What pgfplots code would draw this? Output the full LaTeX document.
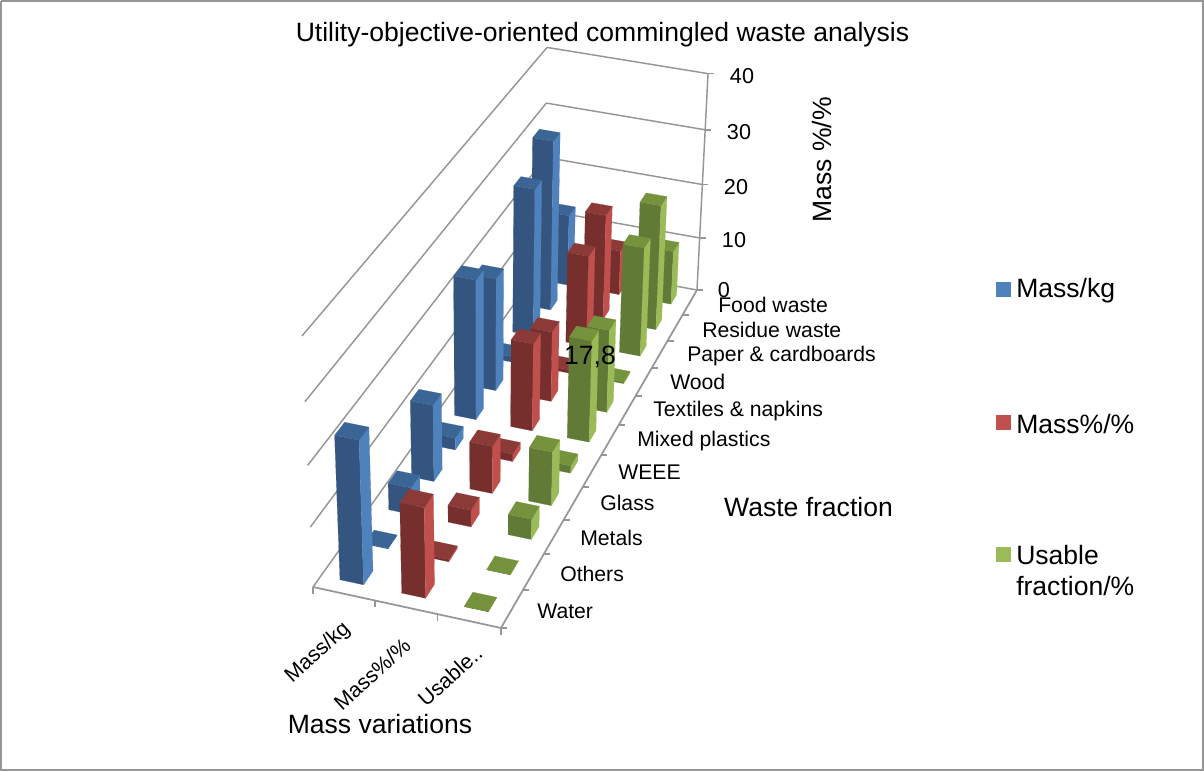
\documentclass[border=0pt]{standalone}
\usepackage{pgfplots}
\pgfplotsset{compat=1.18}
\usepackage{pgfplotstable}
\usepackage{fontspec}
\setmainfont{Liberation Sans}

\definecolor{bluefront}{HTML}{335580}
\definecolor{blueside}{HTML}{4F81BD}
\definecolor{bluetop}{HTML}{3B6595}
\definecolor{redfront}{HTML}{772F2D}
\definecolor{redside}{HTML}{C0504D}
\definecolor{redtop}{HTML}{8C3A38}
\definecolor{greenfront}{HTML}{617A36}
\definecolor{greenside}{HTML}{9BBB59}
\definecolor{greentop}{HTML}{75923C}
\definecolor{gridgray}{HTML}{969696}

% rows run from the back of the floor (Food waste) to the front (Water)
\pgfplotstableread{
row fraction kg pct usable
10 Food     13.2 8.3  10.0
9  Residue  31.0 19.4 22.9
8  Paper    26.7 16.5 19.8
7  Wood     1.0  0.6  0.3
6  Textiles 20.0 12.5 14.7
5  Plastics 24.5 15.4 17.8
4  WEEE     2.1  1.3  1.3
3  Glass    13.2 8.2  9.3
2  Metals   4.6  2.9  3.5
1  Others   0.1  0.4  0.05
0  Water    23.7 15.0 0.05
}\wastedata

% floor (u,v in 0..1) plus height in value units, to picture pixels
\newcommand{\proj}[4]{%
  \pgfmathsetmacro\pw{-0.01764*#1+0.25136*#2+1-0.0606*#3/40}%
  \pgfmathsetmacro\px{(179.16*#1+367.74*#2+313-29.3*#3/40)/\pw}%
  \pgfmathsetmacro\py{(29.92*#1-259.14*#2+587-271.4*#3/40)/\pw}%
  \expandafter\edef\csname #4\endcsname{(\px,\py)}%
}
\newcommand{\edge}[7]{% two 3d points, then style
  \proj{#1}{#2}{#3}{pa}\proj{#4}{#5}{#6}{pb}%
  \edef\tmp{\noexpand\addplot[#7] coordinates {\pa\pb};}\tmp
}
\newcommand{\tickmark}[5]{% 3d point, then pixel offset
  \proj{#1}{#2}{#3}{pa}%
  \pgfmathsetmacro\qx{\px+#4}\pgfmathsetmacro\qy{\py+#5}%
  \edef\tmp{\noexpand\addplot[gridgray,line width=1.3pt] coordinates {\pa(\qx,\qy)};}\tmp
}
\newcommand{\face}[2]{%
  \edef\tmp{\noexpand\addplot[fill=#1,draw=#1,line width=0.1pt,forget plot] coordinates {#2} -- cycle;}\tmp
}
% one bar: column, row, value, colour stem
\newcommand{\wastebar}[4]{%
  \pgfmathsetmacro\ua{(#1+0.5)/3-0.064}%
  \pgfmathsetmacro\ub{(#1+0.5)/3+0.064}%
  \pgfmathsetmacro\va{(#2+0.5)/11-0.0173}%
  \pgfmathsetmacro\vb{(#2+0.5)/11+0.0173}%
  \proj{\ua}{\va}{0}{pa}\proj{\ub}{\va}{0}{pb}\proj{\ub}{\vb}{0}{pc}%
  \proj{\ua}{\va}{#3}{pd}\proj{\ub}{\va}{#3}{pe}\proj{\ub}{\vb}{#3}{pf}\proj{\ua}{\vb}{#3}{pg}%
  \face{#4front}{\pa\pb\pe\pd}%
  \face{#4side}{\pb\pc\pf\pe}%
  \face{#4top}{\pd\pe\pf\pg}%
}
\newcommand{\wastecolumn}[3]{% column index, table column, colour
  \pgfplotsforeachungrouped \r in {10,9,8,7,6,5,4,3,2,1,0}{%
    \pgfmathtruncatemacro\rr{10-\r}%
    \pgfplotstablegetelem{\rr}{#2}\of\wastedata
    \edef\val{\pgfplotsretval}%
    \wastebar{#1}{\r}{\val}{#3}%
  }%
}

\begin{document}
\begin{tikzpicture}[
  ax/.style={font=\fontsize{16.2}{19}\selectfont,inner sep=0pt},
  cat/.style={font=\fontsize{15.9}{18}\selectfont,inner sep=0pt,anchor=west},
  big/.style={font=\fontsize{19.9}{23}\selectfont,inner sep=0pt},
]
\begin{axis}[
  scale only axis,
  x=0.75pt, y=0.75pt,
  xmin=0, xmax=1204, ymin=0, ymax=771,
  y dir=reverse,
  hide axis,
  clip=false,
]
\pgfplotsset{every axis plot/.append style={forget plot}}
% chart border
\addplot[color=gridgray, line width=1.5pt] coordinates {(1,1)(1203,1)(1203,770)(1,770)(1,1)};

% walls
\pgfplotsinvokeforeach{10,20,30,40}{
  \edge{0}{0}{#1}{0}{1}{#1}{gridgray,line width=1.1pt}
  \edge{0}{1}{#1}{1}{1}{#1}{gridgray,line width=1.1pt}
  \tickmark{1}{1}{#1}{6}{0}
}
\edge{1}{1}{0}{1}{1}{40}{gridgray,line width=1.1pt}
\edge{0}{1}{0}{1}{1}{0}{gridgray,line width=1.1pt}
\edge{0}{0}{0}{0}{1}{0}{gridgray,line width=1.1pt}
\edge{0}{0}{0}{1}{0}{0}{gridgray,line width=1.3pt}
\edge{1}{0}{0}{1}{1}{0}{gridgray,line width=1.3pt}
\pgfplotsinvokeforeach{0,1,2,3}{
  \pgfmathsetmacro\uu{#1/3}
  \tickmark{\uu}{0}{0}{0}{7}
}
\pgfplotsinvokeforeach{0,1,2,3,4,5,6,7,8,9,10,11}{
  \pgfmathsetmacro\vv{#1/11}
  \tickmark{1}{\vv}{0}{6}{0}
}

% bars, back to front in each column
\wastecolumn{0}{kg}{blue}
\wastecolumn{1}{pct}{red}
\wastecolumn{2}{usable}{green}

% legend swatches
\addplot[fill=blueside,draw=none] coordinates {(996,282)(1011,282)(1011,297)(996,297)} -- cycle;
\addplot[fill=redside,draw=none] coordinates {(996,415)(1011,415)(1011,430)(996,430)} -- cycle;
\addplot[fill=greenside,draw=none] coordinates {(996,547)(1011,547)(1011,562)(996,562)} -- cycle;

% title and axis titles
\node[big,anchor=center] at (axis cs:602.5,35) {Utility-objective-oriented commingled waste analysis};
\node[big,anchor=center] at (axis cs:380,724) {Mass variations};
\node[big,anchor=center] at (axis cs:808.5,507) {Waste fraction};
\node[big,anchor=center,rotate=90] at (axis cs:822,160) {Mass \%/\%};

% value axis
\node[ax] at (axis cs:742,76) {40};
\node[ax] at (axis cs:739,132) {30};
\node[ax] at (axis cs:736,187) {20};
\node[ax] at (axis cs:734,240) {10};
\node[ax] at (axis cs:724,290) {0};

% waste fraction labels
\node[cat] at (axis cs:718,305) {Food waste};
\node[cat] at (axis cs:702,330) {Residue waste};
\node[cat] at (axis cs:687,356) {Paper \& cardboards};
\node[cat] at (axis cs:670,382) {Wood};
\node[cat] at (axis cs:653,411) {Textiles \& napkins};
\node[cat] at (axis cs:637,441) {Mixed plastics};
\node[cat] at (axis cs:618,472) {WEEE};
\node[cat] at (axis cs:600,503) {Glass};
\node[cat] at (axis cs:580,538) {Metals};
\node[cat] at (axis cs:560,574) {Others};
\node[cat] at (axis cs:537,611) {Water};

% column labels
\node[cat,anchor=center,rotate=42] at (axis cs:318,653) {Mass/kg};
\node[cat,anchor=center,rotate=42] at (axis cs:372,674) {Mass\%/\%};
\node[cat,anchor=center,rotate=42] at (axis cs:450,676) {Usable..};

% data label
\node[big,anchor=center] at (axis cs:590,357) {17,8};

% legend text
\node[big,anchor=west] at (axis cs:1016,291) {Mass/kg};
\node[big,anchor=west] at (axis cs:1016,424) {Mass\%/\%};
\node[big,anchor=west] at (axis cs:1016,555) {Usable};
\node[big,anchor=west] at (axis cs:1016,586) {fraction/\%};
\end{axis}
\end{tikzpicture}
\end{document}
